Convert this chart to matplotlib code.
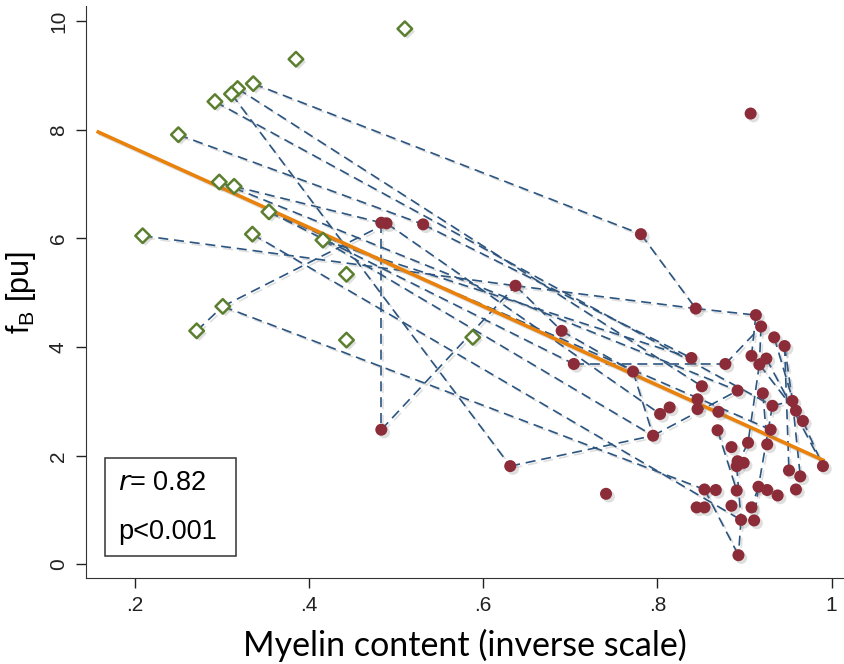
import matplotlib.pyplot as plt
import matplotlib.patheffects as pe
import numpy as np

# diamonds (green, hollow)
dia_x = [0.510, 0.385, 0.336, 0.318, 0.311, 0.292, 0.250, 0.297, 0.314,
         0.354, 0.209, 0.335, 0.416, 0.443, 0.301, 0.271, 0.443, 0.588]
dia_y = [9.86, 9.30, 8.85, 8.76, 8.66, 8.52, 7.91, 7.04, 6.96,
         6.49, 6.05, 6.08, 5.97, 5.34, 4.75, 4.30, 4.13, 4.18]

# circles (red, filled)
cir_x = [0.483, 0.489, 0.531, 0.483, 0.907, 0.781, 0.637, 0.844, 0.913, 0.919,
         0.934, 0.946, 0.690, 0.704, 0.772, 0.839, 0.878, 0.908, 0.925, 0.917,
         0.851, 0.892, 0.921, 0.846, 0.846, 0.814, 0.803, 0.870, 0.932, 0.955,
         0.959, 0.967, 0.930, 0.869, 0.795, 0.885, 0.904, 0.926, 0.892, 0.899,
         0.891, 0.990, 0.951, 0.964, 0.631, 0.741, 0.854, 0.867, 0.891, 0.916,
         0.926, 0.938, 0.959, 0.845, 0.854, 0.885, 0.908, 0.896, 0.911, 0.893]
cir_y = [6.29, 6.28, 6.26, 2.48, 8.30, 6.08, 5.13, 4.71, 4.59, 4.38,
         4.18, 4.02, 4.30, 3.69, 3.55, 3.80, 3.69, 3.84, 3.79, 3.68,
         3.28, 3.20, 3.15, 3.04, 2.86, 2.89, 2.77, 2.81, 2.92, 3.01,
         2.83, 2.64, 2.48, 2.47, 2.37, 2.16, 2.24, 2.21, 1.90, 1.87,
         1.81, 1.81, 1.73, 1.62, 1.81, 1.30, 1.38, 1.37, 1.36, 1.43,
         1.37, 1.27, 1.38, 1.05, 1.05, 1.08, 1.05, 0.82, 0.81, 0.17]

# dashed links: "D<n>" = diamond n, "C<n>" = circle n (1-based)
links = [("D3", "C6"), ("C6", "C8"), ("C8", "C9"), ("D11", "C7"), ("C7", "C8"),
         ("D7", "C3"), ("D9", "C1"), ("C1", "C4"), ("C4", "C7"), ("D16", "D15"),
         ("D15", "C2"), ("D15", "C47"), ("C47", "C60"), ("D5", "C45"), ("C45", "C35"),
         ("C35", "C22"), ("C15", "C35"), ("C13", "C15"), ("C7", "C13"), ("C14", "C17"),
         ("C17", "C10"), ("C10", "C20"), ("C20", "C37"), ("C37", "C41"), ("C41", "C58"),
         ("C58", "C60"), ("C12", "C43"), ("C19", "C42"), ("C29", "C50"), ("C50", "C59"),
         ("D4", "C21"), ("D6", "C29"), ("D8", "C22"), ("D10", "C33"), ("D12", "C58"),
         ("D13", "C16"), ("C2", "C27"), ("C3", "C16"), ("C29", "C30"), ("C50", "C57"),
         ("C23", "C38"), ("C20", "C32"), ("C32", "C42"), ("C34", "C49"), ("C12", "C30"),
         ("C30", "C44"), ("D13", "C35"), ("C9", "C18"), ("C11", "C31"), ("D10", "C14")]

# fitted line
fit_x = [0.158, 0.990]
fit_y = [7.96, 1.92]

r_text = "0.82"
p_text = "p<0.001"


def pt(name):
    i = int(name[1:]) - 1
    if name[0] == "D":
        return dia_x[i], dia_y[i]
    return cir_x[i], cir_y[i]


plt.rcParams['font.family'] = ['Liberation Sans', 'DejaVu Sans']

fig = plt.figure(figsize=(8.45, 6.64), dpi=100)
ax = fig.add_axes([0.1018, 0.1295, 0.8958, 0.8615])

shadow = [pe.SimpleLineShadow(offset=(1.5, -1.5), alpha=0.25, shadow_color='gray'), pe.Normal()]
mshadow = [pe.SimplePatchShadow(offset=(2, -2), alpha=0.25, shadow_rgbFace='gray'), pe.Normal()]

for a, b in links:
    (x0, y0), (x1, y1) = pt(a), pt(b)
    ax.plot([x0, x1], [y0, y1], color='#2b5580', lw=1.2, ls=(0, (6, 3.5)),
            zorder=2, path_effects=shadow)

ax.plot(fit_x, fit_y, color='#e8820c', lw=2.6, zorder=3, path_effects=shadow)

ax.scatter(dia_x, dia_y, marker='D', s=55, facecolors='white', edgecolors='#5b7f2f',
           linewidths=1.8, zorder=4, path_effects=mshadow)
ax.scatter(cir_x, cir_y, marker='o', s=75, color='#8b2c38', linewidths=0,
           zorder=5, path_effects=mshadow)

ax.set_xlim(0.144, 1.013)
ax.set_ylim(-0.25, 10.28)
ax.set_xticks([0.2, 0.4, 0.6, 0.8, 1.0])
ax.set_xticklabels(['.2', '.4', '.6', '.8', '1'])
ax.set_yticks([0, 2, 4, 6, 8, 10])
ax.set_yticklabels(['0', '2', '4', '6', '8', '10'], rotation=90, va='center')
ax.tick_params(direction='out', length=7, width=1, labelsize=15, colors='#222222', pad=6)
for s in ['top', 'right']:
    ax.spines[s].set_visible(False)
for s in ['left', 'bottom']:
    ax.spines[s].set_color('#333333')

ax.set_xlabel('Myelin content (inverse scale)', fontsize=24.5, family=['Lato', 'DejaVu Sans'],
              labelpad=10)
ax.set_ylabel(r'f$_\mathregular{B}$ [pu]', fontsize=22, labelpad=8)

# stats box
box = plt.Rectangle((105, 664 - 556), 131, 98, transform=None, fill=False,
                    edgecolor='#333333', lw=1.1, zorder=6)
fig.patches.append(box)
fig.text(118 / 845, 1 - 483 / 664, r'$\it{r}$= ' + r_text, fontsize=19.5, va='center')
fig.text(118 / 845, 1 - 532 / 664, p_text, fontsize=19.5, va='center')

fig.savefig('out.png', dpi=100)
